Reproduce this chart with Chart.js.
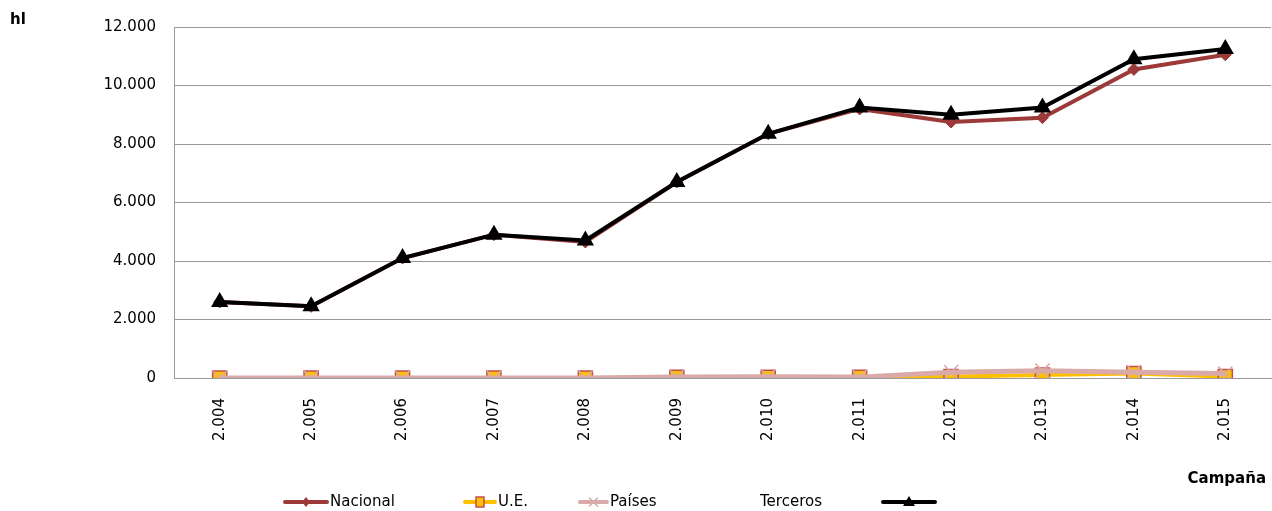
<!DOCTYPE html>
<html>
<head>
<meta charset="utf-8">
<script src="https://cdn.jsdelivr.net/npm/chart.js@4"></script>
<style>
  html, body { margin: 0; padding: 0; background: #fff; }
  #wrap { width: 1272px; height: 511px; position: relative; }
</style>
</head>
<body>
<div id="wrap"><canvas id="chart" width="1272" height="511"></canvas></div>
<script>
// datos (hl por campaña)
const campanas = ["2.004", "2.005", "2.006", "2.007", "2.008", "2.009", "2.010", "2.011", "2.012", "2.013", "2.014", "2.015"];
const nacional = [2600, 2450, 4100, 4900, 4650, 6700, 8350, 9200, 8750, 8900, 10550, 11050];
const ue = [0, 0, 0, 0, 0, 20, 20, 20, 50, 100, 150, 50];
const paisesTerceros = [0, 0, 0, 0, 0, 30, 40, 30, 200, 250, 200, 150];
const total = [2600, 2450, 4100, 4900, 4700, 6700, 8350, 9250, 9000, 9250, 10900, 11250];

const fuente = "DejaVu Sans";
const colNacional = "#9b3a38";
const colUE = "#ffc000";
const colPaises = "#d9aaa9";
const colTotal = "#000000";

function miles(v) {
    return String(v).replace(/\B(?=(\d{3})+(?!\d))/g, ".");
}

// leyenda y textos sueltos dibujados a mano
const extras = {
    id: "extras",
    afterDraw(chart) {
        const ctx = chart.ctx;
        ctx.save();
        ctx.fillStyle = "#000";
        ctx.font = "bold 15px " + fuente;
        ctx.textBaseline = "middle";
        ctx.textAlign = "left";
        ctx.fillText("hl", 10, 20);
        ctx.textAlign = "right";
        ctx.fillText("Campaña", 1266, 479);

        let y = 502;
        let items = [
            { x1: 285, x2: 327, color: colNacional, width: 4, marker: "rombo", text: "Nacional", tx: 330 },
            { x1: 465, x2: 495, color: colUE, width: 4, marker: "cuadro", text: "U.E.", tx: 498 },
            { x1: 580, x2: 607, color: colPaises, width: 4, marker: "cruz", text: "Países", tx: 610 },
            { text: "Terceros", tx: 760 },
            { x1: 883, x2: 935, color: colTotal, width: 4, marker: "triangulo", text: "", tx: 0 }
        ];
        ctx.font = "15px " + fuente;
        ctx.textAlign = "left";
        for (let it of items) {
            if (it.x1 !== undefined) {
                ctx.strokeStyle = it.color;
                ctx.lineWidth = it.width;
                ctx.lineCap = "round";
                ctx.beginPath();
                ctx.moveTo(it.x1, y);
                ctx.lineTo(it.x2, y);
                ctx.stroke();
                let cx = (it.x1 + it.x2) / 2;
                ctx.beginPath();
                if (it.marker == "rombo") {
                    ctx.fillStyle = colNacional;
                    ctx.moveTo(cx, y - 5); ctx.lineTo(cx + 4, y); ctx.lineTo(cx, y + 5); ctx.lineTo(cx - 4, y);
                    ctx.closePath(); ctx.fill();
                } else if (it.marker == "cuadro") {
                    ctx.fillStyle = colUE;
                    ctx.strokeStyle = "#c0504d";
                    ctx.lineWidth = 1.5;
                    ctx.rect(cx - 4, y - 5, 8, 10);
                    ctx.fill(); ctx.stroke();
                } else if (it.marker == "cruz") {
                    ctx.strokeStyle = colPaises;
                    ctx.lineWidth = 1.5;
                    ctx.moveTo(cx - 4, y - 4); ctx.lineTo(cx + 4, y + 4);
                    ctx.moveTo(cx + 4, y - 4); ctx.lineTo(cx - 4, y + 4);
                    ctx.stroke();
                } else if (it.marker == "triangulo") {
                    ctx.fillStyle = colTotal;
                    ctx.moveTo(cx, y - 6); ctx.lineTo(cx + 6, y + 4); ctx.lineTo(cx - 6, y + 4);
                    ctx.closePath(); ctx.fill();
                }
            }
            if (it.text) {
                ctx.fillStyle = "#000";
                ctx.fillText(it.text, it.tx, y);
            }
        }
        ctx.restore();
    }
};

let ctx = document.getElementById("chart").getContext("2d");
let chart = new Chart(ctx, {
    type: "line",
    data: {
        labels: campanas,
        datasets: [
            {
                label: "Nacional",
                data: nacional,
                borderColor: colNacional,
                backgroundColor: colNacional,
                borderWidth: 4,
                pointStyle: "rectRot",
                pointRadius: 6,
                pointBorderWidth: 1,
                order: 3
            },
            {
                label: "U.E.",
                data: ue,
                borderColor: colUE,
                backgroundColor: colUE,
                pointBorderColor: "#c0504d",
                borderWidth: 4,
                pointStyle: "rect",
                pointRadius: 10,
                pointBorderWidth: 1.5,
                order: 2
            },
            {
                label: "Países Terceros",
                data: paisesTerceros,
                borderColor: colPaises,
                backgroundColor: colPaises,
                borderWidth: 5,
                pointStyle: "crossRot",
                pointRadius: 10,
                pointBorderWidth: 1.5,
                order: 1
            },
            {
                label: "",
                data: total,
                borderColor: colTotal,
                backgroundColor: colTotal,
                borderWidth: 4,
                pointStyle: "triangle",
                pointRadius: 6,
                order: 0
            }
        ]
    },
    options: {
        responsive: false,
        animation: false,
        layout: { autoPadding: false, padding: { left: 0, right: 1, top: 27, bottom: 0 } },
        plugins: {
            legend: { display: false },
            tooltip: { enabled: false }
        },
        scales: {
            x: {
                offset: true,
                grid: { display: false },
                border: { color: "#999999", width: 1 },
                ticks: {
                    color: "#000",
                    font: { family: fuente, size: 15 },
                    minRotation: 90,
                    maxRotation: 90,
                    padding: 12
                },
                afterFit(scale) {
                    scale.height = 133;
                }
            },
            y: {
                min: 0,
                max: 12000,
                grid: { color: "#999999", lineWidth: 1, drawTicks: false },
                border: { color: "#999999", width: 1 },
                ticks: {
                    stepSize: 2000,
                    color: "#000",
                    font: { family: fuente, size: 15 },
                    padding: 18,
                    callback: (v) => miles(v)
                },
                afterFit(scale) { scale.width = 174; }
            }
        }
    },
    plugins: [extras]
});
</script>
</body>
</html>
